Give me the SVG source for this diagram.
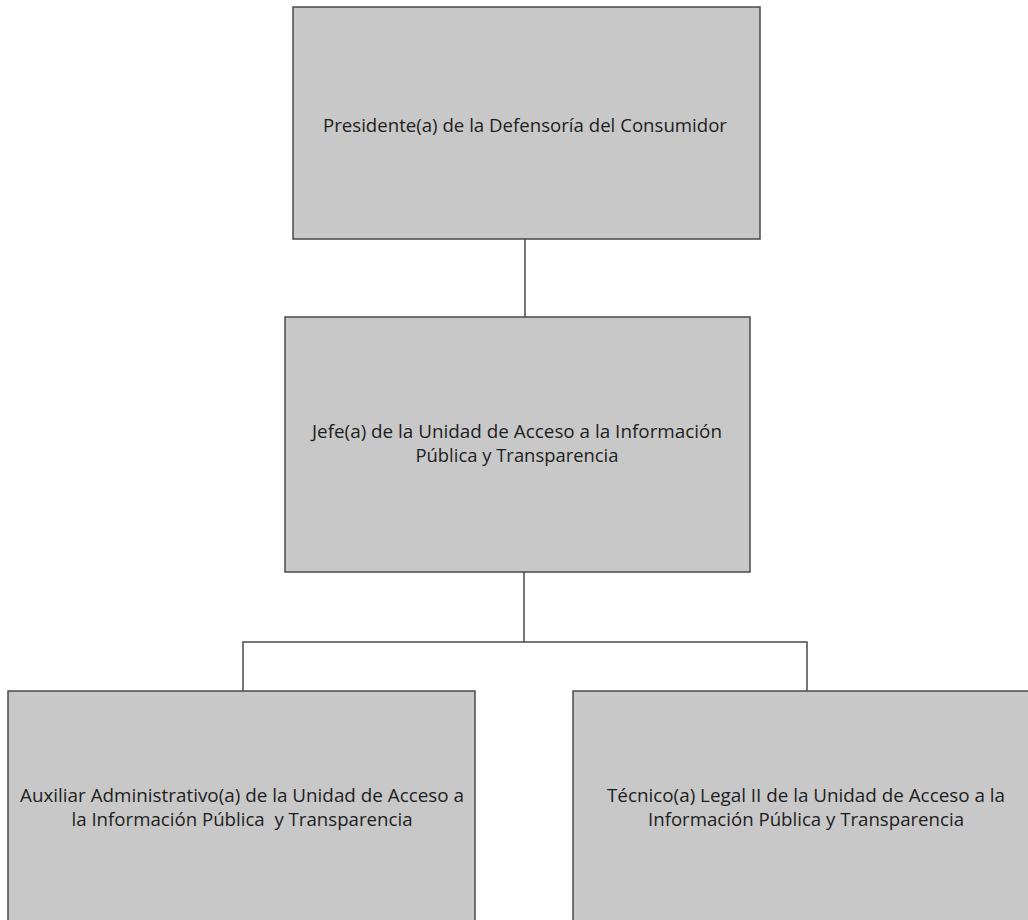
<svg xmlns="http://www.w3.org/2000/svg" width="1028" height="920" viewBox="0 0 1028 920">
  <style>
    .box { fill: #c8c8c8; stroke: #4a4a4a; stroke-width: 1.5; }
    .lbl { font-family: "Open Sans", Lato, "Liberation Sans", sans-serif; font-size: 19px; fill: #1e1e1e; text-anchor: middle; }
    .conn { fill: none; stroke: #4a4a4a; stroke-width: 1.5; }
  </style>
  <rect x="0" y="0" width="1028" height="920" fill="#ffffff"/>
  <g id="connectors">
    <line class="conn" x1="525" y1="239" x2="525" y2="317"/>
    <line class="conn" x1="524" y1="572" x2="524" y2="642"/>
    <polyline class="conn" points="243,691 243,642 807,642 807,691"/>
  </g>
  <g id="node-presidente">
    <rect class="box" x="293" y="7" width="467" height="232"/>
    <text class="lbl" x="525" y="132" textLength="404" lengthAdjust="spacingAndGlyphs">Presidente(a) de la Defensoría del Consumidor</text>
  </g>
  <g id="node-jefe">
    <rect class="box" x="285" y="317" width="465" height="255"/>
    <text class="lbl" x="517" y="438" textLength="410" lengthAdjust="spacingAndGlyphs">Jefe(a) de la Unidad de Acceso a la Información</text>
    <text class="lbl" x="517" y="462" textLength="203" lengthAdjust="spacingAndGlyphs">Pública y Transparencia</text>
  </g>
  <g id="node-auxiliar">
    <rect class="box" x="8" y="691" width="467" height="240"/>
    <text class="lbl" x="242" y="802" textLength="444" lengthAdjust="spacingAndGlyphs">Auxiliar Administrativo(a) de la Unidad de Acceso a</text>
    <text class="lbl" x="242" y="826" textLength="341" lengthAdjust="spacingAndGlyphs" xml:space="preserve">la Información Pública  y Transparencia</text>
  </g>
  <g id="node-tecnico">
    <rect class="box" x="573" y="691" width="470" height="240"/>
    <text class="lbl" x="806" y="802" textLength="398" lengthAdjust="spacingAndGlyphs">Técnico(a) Legal II de la Unidad de Acceso a la</text>
    <text class="lbl" x="806" y="826" textLength="316" lengthAdjust="spacingAndGlyphs">Información Pública y Transparencia</text>
  </g>
</svg>
